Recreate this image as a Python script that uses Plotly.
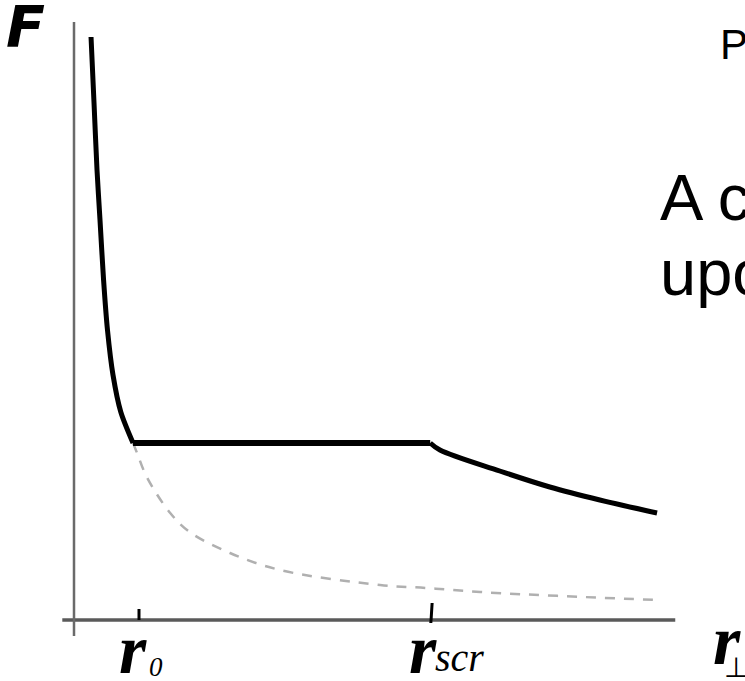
import plotly.graph_objects as go

# Force F versus transverse distance r (arbitrary units)
# solid curve: steep rise at small r, plateau between r0 and r_scr, slow tail beyond
r_steep = [0.262, 0.308, 0.354, 0.400, 0.455, 0.515, 0.600, 0.720, 0.908]
F_steep = [5.83, 5.17, 4.50, 4.00, 3.40, 2.90, 2.45, 2.08, 1.77]

r_plateau = [0.908, 5.48]
F_plateau = [1.77, 1.77]

r_tail = [5.48, 5.63, 6.55, 7.32, 8.09, 8.97]
F_tail = [1.77, 1.70, 1.49, 1.33, 1.20, 1.07]

# dashed curve: continuation of the steep fall without the plateau
r_dash = [0.908, 0.97, 1.12, 1.48, 1.78, 2.40, 3.17, 4.71, 5.43, 6.25, 7.48, 8.97]
F_dash = [1.77, 1.67, 1.43, 1.07, 0.88, 0.67, 0.50, 0.35, 0.32, 0.28, 0.24, 0.20]

r0 = 1.0
r_scr = 5.5

fig = go.Figure()

fig.add_trace(go.Scatter(x=r_dash, y=F_dash, mode="lines",
                         line=dict(color="#b0b0b0", width=2.5, dash="10px,9px", shape="spline"),
                         hoverinfo="skip"))
fig.add_trace(go.Scatter(x=r_steep, y=F_steep, mode="lines",
                         line=dict(color="black", width=5, shape="spline", smoothing=0.8),
                         hoverinfo="skip"))
fig.add_trace(go.Scatter(x=r_plateau, y=F_plateau, mode="lines",
                         line=dict(color="black", width=6), hoverinfo="skip"))
fig.add_trace(go.Scatter(x=r_tail, y=F_tail, mode="lines",
                         line=dict(color="black", width=5, shape="spline"), hoverinfo="skip"))

shapes = [
    # x axis
    dict(type="line", xref="x", yref="y", x0=-0.18, x1=9.25, y0=0, y1=0,
         line=dict(color="#5a5a5a", width=3.5), layer="below"),
    # y axis
    dict(type="line", xref="x", yref="y", x0=0, x1=0, y0=-0.16, y1=5.98,
         line=dict(color="#6a6a6a", width=2.5), layer="below"),
    # tick marks at r0 and r_scr
    dict(type="line", xref="x", yref="y", x0=r0, x1=r0, y0=0, y1=0.11,
         line=dict(color="black", width=3)),
    dict(type="line", xref="x", yref="y", x0=r_scr - 0.01, x1=r_scr + 0.01, y0=-0.03, y1=0.17,
         line=dict(color="black", width=3)),
]

serif = "Liberation Serif"
sans = "Liberation Sans"
annotations = [
    dict(text="F", xref="paper", yref="paper", x=4 / 745, y=1 - 62 / 681,
         xanchor="left", yanchor="bottom", showarrow=False,
         font=dict(family="DejaVu Sans", size=57, color="black", weight="bold", style="italic")),
    # r0 label
    dict(text="r", xref="x", yref="paper", x=r0 - 0.34, y=1 - 690 / 681,
         xanchor="left", yanchor="bottom", showarrow=False,
         font=dict(family=serif, size=70, color="black", weight="bold", style="italic")),
    dict(text="0", xref="x", yref="paper", x=r0 + 0.12, y=1 - 684 / 681,
         xanchor="left", yanchor="bottom", showarrow=False,
         font=dict(family=serif, size=27, color="black", style="italic")),
    # r_scr label
    dict(text="r", xref="x", yref="paper", x=r_scr - 0.37, y=1 - 690 / 681,
         xanchor="left", yanchor="bottom", showarrow=False,
         font=dict(family=serif, size=70, color="black", weight="bold", style="italic")),
    dict(text="scr", xref="x", yref="paper", x=r_scr + 0.02, y=1 - 682 / 681,
         xanchor="left", yanchor="bottom", showarrow=False,
         font=dict(family=serif, size=40, color="black", style="italic")),
    # r_perp axis label
    dict(text="r", xref="paper", yref="paper", x=711 / 745, y=1 - 681 / 681,
         xanchor="left", yanchor="bottom", showarrow=False,
         font=dict(family=serif, size=70, color="black", weight="bold", style="italic")),
    dict(text="⊥", xref="paper", yref="paper", x=722 / 745, y=1 - 686 / 681,
         xanchor="left", yanchor="bottom", showarrow=False,
         font=dict(family="DejaVu Sans", size=28, color="black")),
    # slide text to the right
    dict(text="P", xref="paper", yref="paper", x=718 / 745, y=1 - 70 / 681,
         xanchor="left", yanchor="bottom", showarrow=False,
         font=dict(family=sans, size=42, color="black")),
    dict(text="A c", xref="paper", yref="paper", x=658 / 745, y=1 - 236 / 681,
         xanchor="left", yanchor="bottom", showarrow=False,
         font=dict(family=sans, size=65, color="black")),
    dict(text="upo", xref="paper", yref="paper", x=658 / 745, y=1 - 311 / 681,
         xanchor="left", yanchor="bottom", showarrow=False,
         font=dict(family=sans, size=65, color="black")),
]

fig.update_layout(
    width=745, height=681,
    margin=dict(l=0, r=0, t=0, b=0),
    paper_bgcolor="white", plot_bgcolor="white",
    showlegend=False,
    xaxis=dict(range=[-74 / 65, 671 / 65], visible=False, fixedrange=True),
    yaxis=dict(range=[-0.61, 6.20], visible=False, fixedrange=True),
    shapes=shapes,
    annotations=annotations,
)

fig.write_html("out.html")
